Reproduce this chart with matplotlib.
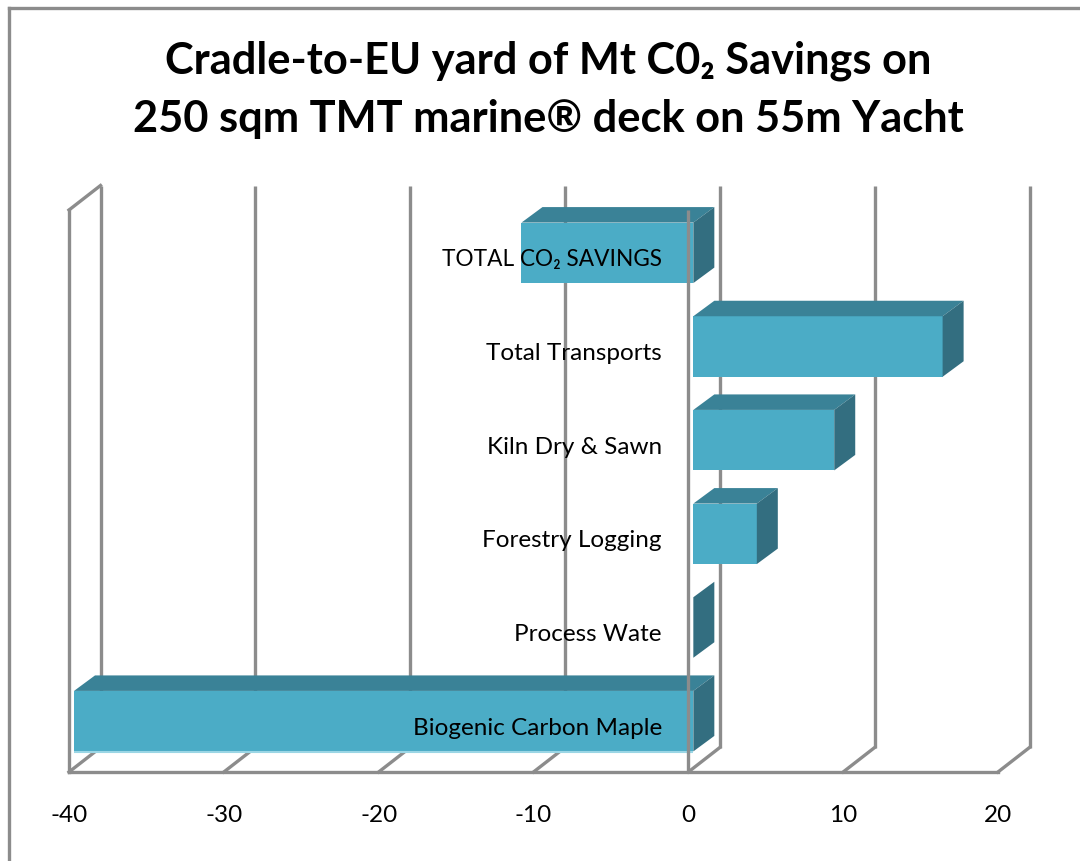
import matplotlib
matplotlib.use("Agg")
import matplotlib.pyplot as plt
from matplotlib.lines import Line2D
from matplotlib.patches import Polygon

categories = ["Biogenic Carbon Maple", "Process Wate", "Forestry Logging",
              "Kiln Dry & Sawn", "Total Transports", "TOTAL CO\u2082 SAVINGS"]
values = [-40, 0, 4.1, 9.1, 16.1, -11.1]
x_ticks = [-40, -30, -20, -10, 0, 10, 20]
title = "Cradle-to-EU yard of Mt C0\u2082 Savings on\n250 sqm TMT marine\u00ae deck on 55m Yacht"

W, H = 1080, 861
FONT = ["Lato", "DejaVu Sans"]
plt.rcParams["font.family"] = FONT
GRID = "#8c8c8c"
FACE, TOP, SIDE, STRIP = "#4bacc6", "#3a8297", "#336e80", "#9bd6e5"

fig = plt.figure(figsize=(W / 100, H / 100), dpi=100, facecolor="white")
left, right, top, bottom = 69, 998, 210, 772
ax = fig.add_axes([left / W, 1 - bottom / H, (right - left) / W, (bottom - top) / H])
ax.set_xlim(-40, 20)
ax.set_ylim(0, 6)
ax.set_facecolor("none")
for s in ["top", "right", "bottom", "left"]:
    ax.spines[s].set_visible(False)

px = (right - left) / 60            # pixels per x unit
py = (bottom - top) / 6             # pixels per y unit
wall_dx, wall_dy = 31.5 / px, 24.5 / py   # depth of the chart box
off_x, off_y = 5 / px, 4 / py             # bars start inside the box
bar_dx, bar_dy = 21 / px, 15.5 / py       # depth of each bar
bar_h = 60.5 / py

# box: back wall gridlines, floor diagonals, left wall, front edges
lw = 2.4
for t in x_ticks:
    ax.plot([t + wall_dx] * 2, [wall_dy, 6 + wall_dy], color=GRID, lw=lw, clip_on=False, zorder=0.5,
            solid_capstyle="butt")
    ax.plot([t, t + wall_dx], [0, wall_dy], color=GRID, lw=lw, clip_on=False, zorder=0.5)
ax.plot([-40, -40 + wall_dx], [6, 6 + wall_dy], color=GRID, lw=lw, clip_on=False, zorder=0.6)
ax.plot([-40, -40], [0, 6], color=GRID, lw=lw, clip_on=False, zorder=0.6)
ax.plot([-40, 20], [0, 0], color=GRID, lw=lw, clip_on=False, zorder=0.6)

# bars
ys = [i + 0.5 + off_y for i in range(len(values))]
ax.barh(ys, values, height=bar_h, left=off_x, color=FACE, zorder=2, clip_on=False)
for y, v in zip(ys, values):
    x0, x1 = off_x, off_x + v
    lo, hi = min(x0, x1), max(x0, x1)
    t, b = y + bar_h / 2, y - bar_h / 2
    if hi > lo:
        ax.add_patch(Polygon([(lo, t), (hi, t), (hi + bar_dx, t + bar_dy), (lo + bar_dx, t + bar_dy)],
                             closed=True, facecolor=TOP, edgecolor="none", zorder=2, clip_on=False))
    ax.add_patch(Polygon([(hi, b), (hi, t), (hi + bar_dx, t + bar_dy), (hi + bar_dx, b + bar_dy)],
                         closed=True, facecolor=SIDE, edgecolor="none", zorder=2, clip_on=False))
ax.plot([off_x + values[0], off_x], [ys[0] - bar_h / 2 - 1 / py] * 2, color=STRIP, lw=1.5,
        clip_on=False, zorder=2, solid_capstyle="butt")

# category axis line lies in front of the bars
ax.plot([0, 0], [0, 6], color=GRID, lw=lw, clip_on=False, zorder=2.2, solid_capstyle="butt")

# axes labels
ax.set_axisbelow(False)
ax.set_xticks(x_ticks)
ax.set_xticklabels([str(t) for t in x_ticks])
ax.tick_params(axis="x", length=0, pad=23.5, labelsize=17.5, labelcolor="black")
ax.set_yticks([i + 0.5 - 1 / py for i in range(len(categories))])
ax.set_yticklabels(categories)
ax.tick_params(axis="y", length=0, pad=-(662 - left) * 0.72, labelsize=17.5, labelcolor="black")
ax.get_yticklabels()[-1].set_fontsize(16.3)

# outer chart frame
fig.add_artist(Line2D([9 / W, 9 / W], [0, 1 - 8 / H], color=GRID, lw=lw))
fig.add_artist(Line2D([9 / W, 1], [1 - 8 / H, 1 - 8 / H], color=GRID, lw=lw))

fig.text(548 / W, 1 - 90 / H, title, ha="center", va="center", fontsize=31.2, fontweight="bold",
         linespacing=1.56, color="black")

fig.savefig("out.png", dpi=100)
